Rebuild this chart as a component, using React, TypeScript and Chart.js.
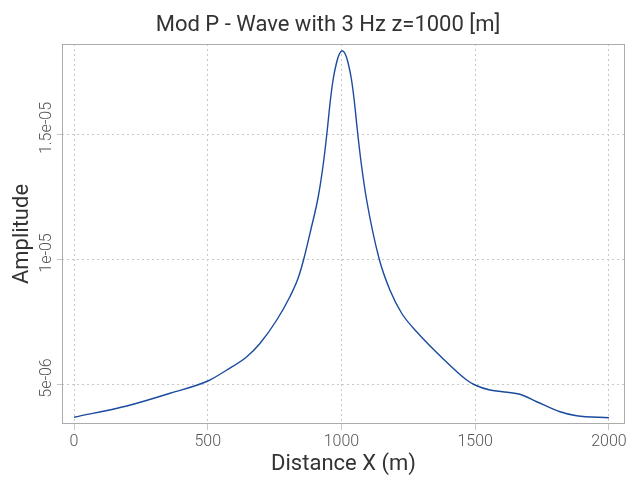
import React, { useEffect, useRef } from "react";
import { Chart, registerables } from "chart.js";

Chart.register(...registerables);

const titleText = "Mod P - Wave with 3 Hz z=1000 [m]";
const xTitle = "Distance X (m)";
const yTitle = "Amplitude";

const distances = [
  0, 197, 359, 500, 571, 645, 695, 758, 807, 839, 859, 886, 913, 933, 947, 958,
  969, 981, 992, 1003, 1014, 1025, 1037, 1048, 1059, 1073, 1094, 1141,
  1181, 1225, 1281, 1375, 1468, 1499, 1555, 1620, 1667, 1730, 1817, 1879, 2000,
];
const amplitudes = [
  3.67e-6, 4.12e-6, 4.63e-6, 5.12e-6, 5.56e-6, 6.08e-6, 6.62e-6, 7.56e-6, 8.49e-6,
  9.27e-6, 1.0e-5, 1.12e-5, 1.249e-5, 1.389e-5, 1.518e-5, 1.631e-5, 1.72e-5,
  1.783e-5, 1.82e-5, 1.833e-5, 1.82e-5, 1.783e-5, 1.72e-5, 1.631e-5, 1.518e-5,
  1.389e-5, 1.236e-5, 1.0e-5, 8.76e-6, 7.83e-6, 7.09e-6,
  6.06e-6, 5.16e-6, 4.96e-6, 4.76e-6, 4.67e-6, 4.59e-6, 4.29e-6, 3.89e-6, 3.73e-6,
  3.65e-6,
];

const xTicks = [0, 500, 1000, 1500, 2000];
const yTicks = [5e-6, 1e-5, 1.5e-5];
const yTickLabels = ["5e-06", "1e-05", "1.5e-05"];

const FONT = "Roboto, 'Noto Sans', sans-serif";

export default function App() {
  const ref = useRef<HTMLCanvasElement | null>(null);

  useEffect(() => {
    document.body.style.margin = "0";
    const canvas = ref.current;
    if (!canvas) return;

    const decor = {
      id: "decor",
      afterDraw(chart: any) {
        const { ctx, chartArea } = chart;
        ctx.save();
        ctx.strokeStyle = "#ababab";
        ctx.lineWidth = 1;
        ctx.setLineDash([]);
        ctx.strokeRect(
          chartArea.left + 0.5,
          chartArea.top + 0.5,
          chartArea.right - chartArea.left - 1,
          chartArea.bottom - chartArea.top - 1
        );
        ctx.fillStyle = "#333333";
        ctx.font = `400 22px ${FONT}`;
        ctx.textAlign = "center";
        ctx.textBaseline = "alphabetic";
        ctx.fillText(titleText, 328, 31);
        const ys = chart.scales.y;
        ctx.fillStyle = "#555555";
        ctx.font = `300 16px ${FONT}`;
        yTicks.forEach((v, i) => {
          const py = ys.getPixelForValue(v);
          ctx.save();
          ctx.translate(51, py - 6);
          ctx.rotate(-Math.PI / 2);
          ctx.textAlign = "center";
          ctx.textBaseline = "alphabetic";
          ctx.fillText(yTickLabels[i], 0, 0);
          ctx.restore();
        });
        ctx.restore();
      },
    };

    const chart = new Chart(canvas, {
      type: "line",
      data: {
        datasets: [
          {
            data: distances.map((d, i) => ({ x: d, y: amplitudes[i] })),
            borderColor: "#1a4b9f",
            borderWidth: 1.4,
            pointRadius: 0,
            fill: false,
            cubicInterpolationMode: "monotone",
          },
        ],
      },
      options: {
        animation: false,
        responsive: false,
        layout: { padding: { top: 44, left: 0, right: 12, bottom: 0 } },
        plugins: {
          legend: { display: false },
          title: { display: false },
          tooltip: { enabled: false },
        },
        scales: {
          x: {
            type: "linear",
            min: -45,
            max: 2060,
            afterBuildTicks: (s: any) => {
              s.ticks = xTicks.map((v) => ({ value: v }));
            },
            afterFit: (s: any) => {
              s.height = 56;
            },
            border: { display: false, dash: [2, 3] },
            grid: {
              color: "#c8c8c8",
              lineWidth: 1,
              tickLength: 6,
              tickBorderDash: [],
            },
            ticks: {
              color: "#555555",
              font: { family: FONT, size: 16, weight: "300" },
              padding: 2,
              maxRotation: 0,
              callback: (v: any) => String(v),
            },
            title: {
              display: true,
              text: xTitle,
              color: "#333333",
              font: { family: FONT, size: 22, weight: "400" },
              padding: { top: 0, bottom: 2 },
            },
          },
          y: {
            type: "linear",
            min: 3.4e-6,
            max: 1.86e-5,
            afterBuildTicks: (s: any) => {
              s.ticks = yTicks.map((v) => ({ value: v }));
            },
            afterFit: (s: any) => {
              s.width = 62;
            },
            border: { display: false, dash: [2, 3] },
            grid: {
              color: "#c8c8c8",
              lineWidth: 1,
              tickLength: 5,
              tickBorderDash: [],
            },
            ticks: { display: false },
            title: {
              display: true,
              text: yTitle,
              color: "#333333",
              font: { family: FONT, size: 22, weight: "400" },
              padding: { top: 9, bottom: 0 },
            },
          },
        },
      },
      plugins: [decor],
    });

    return () => chart.destroy();
  }, []);

  return (
    <div style={{ width: 637, height: 480 }}>
      <canvas ref={ref} width={637} height={480} />
    </div>
  );
}
